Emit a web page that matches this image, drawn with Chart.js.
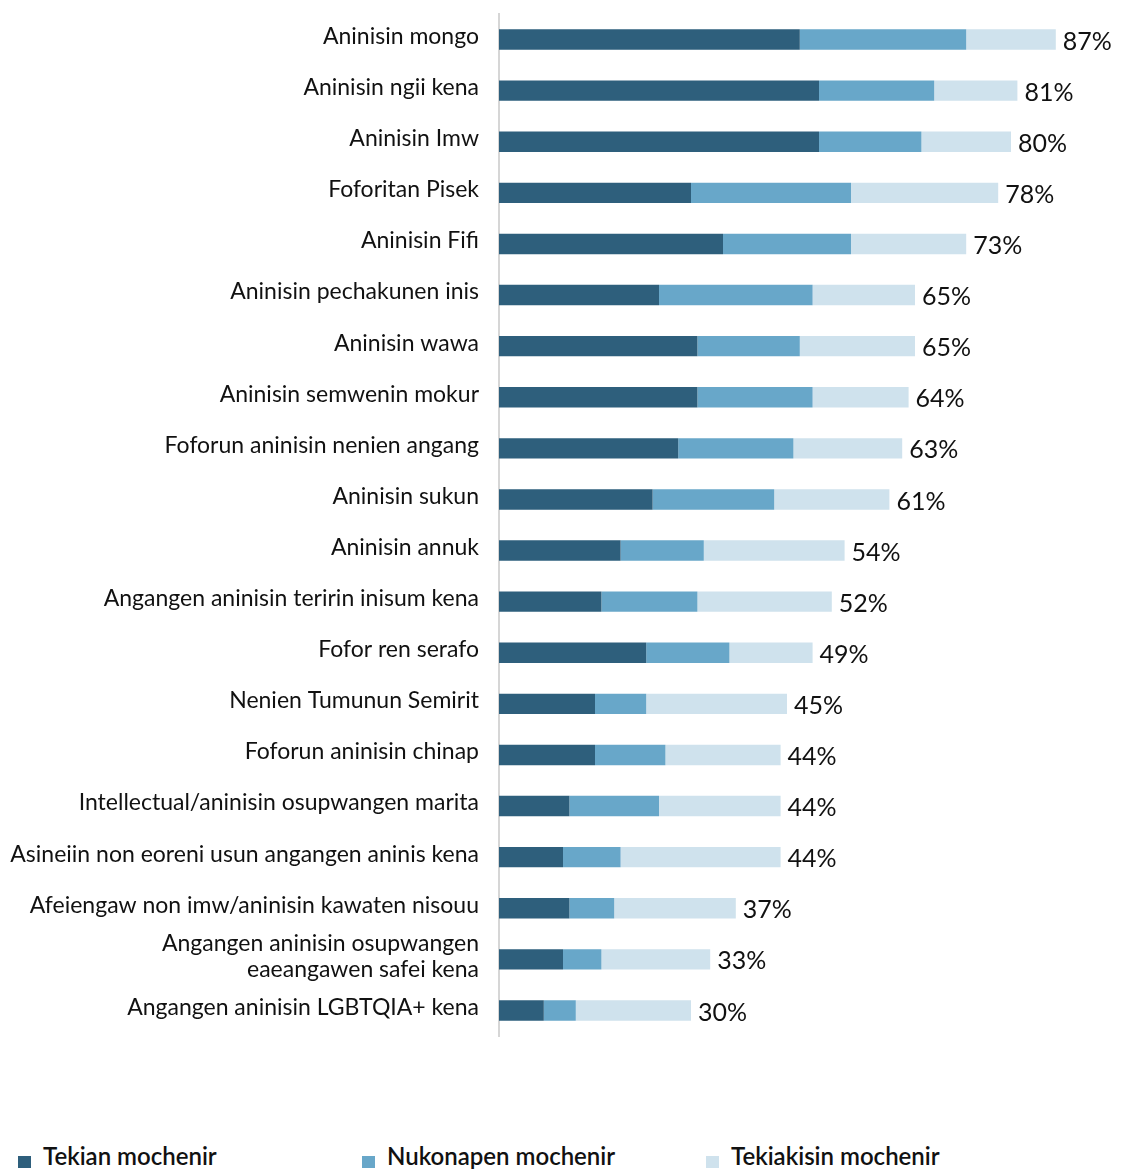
<!DOCTYPE html>
<html>
<head>
<meta charset="utf-8">
<script src="https://cdn.jsdelivr.net/npm/chart.js@4.4.1/dist/chart.umd.min.js"></script>
<style>
  html, body { margin: 0; padding: 0; background: #fff; overflow: hidden; }
  #wrap { position: relative; width: 1134px; height: 1045px; }
  #legend { display: flex; margin-top: 96px; padding-left: 18px; font-family: Lato, sans-serif; font-size: 24px; font-weight: 600; line-height: 30px; color: #111; }
  #legend .item { display: flex; align-items: flex-end; width: 344px; }
  #legend .box { width: 13px; height: 12px; margin-right: 12px; margin-bottom: 3px; }
</style>
</head>
<body>
<div id="wrap"><canvas id="chart"></canvas></div>
<div id="legend"></div>
<script>
const categories = [
  "Aninisin mongo",
  "Aninisin ngii kena",
  "Aninisin Imw",
  "Foforitan Pisek",
  "Aninisin Fifi",
  "Aninisin pechakunen inis",
  "Aninisin wawa",
  "Aninisin semwenin mokur",
  "Foforun aninisin nenien angang",
  "Aninisin sukun",
  "Aninisin annuk",
  "Angangen aninisin teririn inisum kena",
  "Fofor ren serafo",
  "Nenien Tumunun Semirit",
  "Foforun aninisin chinap",
  "Intellectual/aninisin osupwangen marita",
  "Asineiin non eoreni usun angangen aninis kena",
  "Afeiengaw non imw/aninisin kawaten nisouu",
  ["Angangen aninisin osupwangen", "eaeangawen safei kena"],
  "Angangen aninisin LGBTQIA+ kena"
];

const seriesNames = ["Tekian mochenir", "Nukonapen mochenir", "Tekiakisin mochenir"];
const seriesColors = ["#2e5f7c", "#68a7c9", "#cfe2ed"];

const tekian     = [47, 50, 50, 30, 35, 25, 31, 31, 28, 24, 19, 16, 23, 15, 15, 11, 10, 11, 10, 7];
const nukonapen  = [26, 18, 16, 25, 20, 24, 16, 18, 18, 19, 13, 15, 13,  8, 11, 14,  9,  7,  6, 5];
const tekiakisin = [14, 13, 14, 23, 18, 16, 18, 15, 17, 18, 22, 21, 13, 22, 18, 19, 25, 19, 17, 18];

const totalLabels = ["87%", "81%", "80%", "78%", "73%", "65%", "65%", "64%", "63%", "61%",
  "54%", "52%", "49%", "45%", "44%", "44%", "44%", "37%", "33%", "30%"];

// etiketa ruk mwirin bar
const totalPlugin = {
  id: "totals",
  afterDatasetsDraw(chart) {
    const ctx = chart.ctx;
    const last = chart.getDatasetMeta(chart.data.datasets.length - 1);
    ctx.save();
    ctx.font = "25px Lato, sans-serif";
    ctx.fillStyle = "#111";
    ctx.textAlign = "left";
    ctx.textBaseline = "middle";
    last.data.forEach((bar, i) => {
      ctx.fillText(totalLabels[i], bar.x + 7, bar.y + 2);
    });
    ctx.restore();
  }
};

const datasets = [tekian, nukonapen, tekiakisin].map((vals, i) => ({
  label: seriesNames[i],
  data: vals,
  backgroundColor: seriesColors[i],
  borderWidth: 0,
  barPercentage: 0.8,
  categoryPercentage: 0.5
}));

new Chart(document.getElementById("chart"), {
  type: "bar",
  data: { labels: categories, datasets },
  plugins: [totalPlugin],
  options: {
    indexAxis: "y",
    responsive: true,
    maintainAspectRatio: false,
    animation: false,
    layout: { padding: { top: 14, bottom: 9, left: 0, right: 27 } },
    plugins: { legend: { display: false }, tooltip: { enabled: false } },
    scales: {
      x: { stacked: true, display: false, min: 0, max: 95 },
      y: {
        stacked: true,
        afterFit(scale) {
          scale.width = 499;
          scale.paddingTop = 0;
          scale.paddingBottom = 0;
        },
        grid: { display: false, drawTicks: false },
        border: { display: true, color: "#d6d6d6", width: 2 },
        ticks: {
          autoSkip: false,
          padding: 20,
          labelOffset: -3,
          color: "#111",
          font: { family: "Lato, sans-serif", size: 23, lineHeight: 1.15 }
        }
      }
    }
  }
});

const legend = document.getElementById("legend");
seriesNames.forEach((name, i) => {
  const item = document.createElement("div");
  item.className = "item";
  item.innerHTML = `<span class="box" style="background:${seriesColors[i]}"></span><span>${name}</span>`;
  legend.appendChild(item);
});
</script>
</body>
</html>
